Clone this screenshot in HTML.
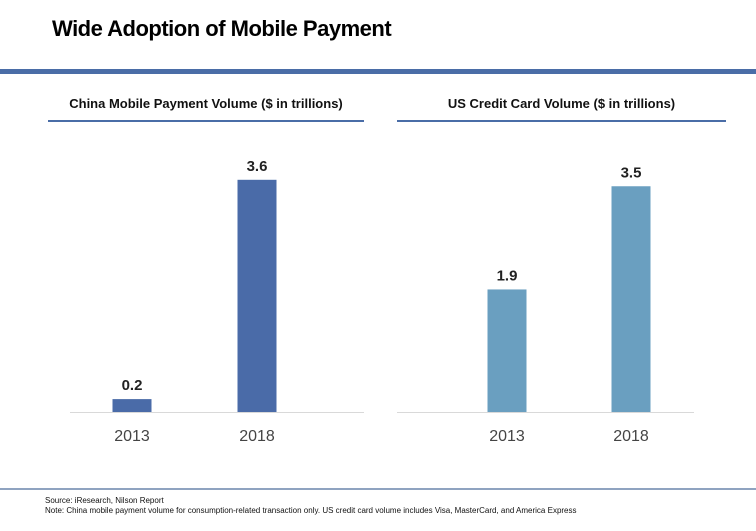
<!DOCTYPE html>
<html><head><meta charset="utf-8"><style>
body{margin:0;width:756px;height:531px;background:#fff;font-family:"Liberation Sans",sans-serif;position:relative;overflow:hidden}
.a{position:absolute}
</style></head><body>
<div class="a" style="left:52px;top:16px;font-size:22px;font-weight:bold;color:#000;letter-spacing:-0.5px">Wide Adoption of Mobile Payment</div>
<div class="a" style="left:0;top:69px;width:756px;height:5px;background:#4a6da7"></div>
<div class="a" style="left:48px;top:96px;width:316px;text-align:center;font-size:13px;font-weight:bold;color:#111">China Mobile Payment Volume ($ in trillions)</div>
<div class="a" style="left:48px;top:120px;width:316px;height:2px;background:#4a6da7"></div>
<div class="a" style="left:397px;top:96px;width:329px;text-align:center;font-size:13px;font-weight:bold;color:#111">US Credit Card Volume ($ in trillions)</div>
<div class="a" style="left:397px;top:120px;width:329px;height:2px;background:#4a6da7"></div>
<svg class="a" style="left:0;top:0" width="756" height="531" id="chart"></svg>
<div class="a" style="left:0;top:488px;width:756px;height:2px;background:#8fa3c0"></div>
<div class="a" style="left:45px;top:496px;font-size:8px;line-height:10px;color:#111">Source: iResearch, Nilson Report<br>Note: China mobile payment volume for consumption-related transaction only. US credit card volume includes Visa, MasterCard, and America Express</div>
<script>
const years=["2013","2018"];
const chinaValues=[0.2,3.6];
const usValues=[1.9,3.5];
const valueLabels=[["0.2","3.6"],["1.9","3.5"]];
const NS="http://www.w3.org/2000/svg";
const svg=document.getElementById('chart');
const baseY=412, scale=64.5;
function yOf(v){return baseY-v*scale;}
const panels=[{vals:chinaValues,x0:70,x1:364,centers:[132,257],color:"#4a6ba8",name:"china"},
{vals:usValues,x0:397,x1:694,centers:[507,631],color:"#6a9fc0",name:"us"}];
panels.forEach((p,pi)=>{
 const ax=document.createElementNS(NS,'line');
 ax.setAttribute('x1',p.x0);ax.setAttribute('x2',p.x1);ax.setAttribute('y1',baseY+0.5);ax.setAttribute('y2',baseY+0.5);
 ax.setAttribute('stroke','#d9d9d9');
 
 
 svg.appendChild(ax);
 p.vals.forEach((v,i)=>{
  const cx=p.centers[i];
  const r=document.createElementNS(NS,'rect');
  r.setAttribute('x',cx-19.5);r.setAttribute('width',39);r.setAttribute('y',yOf(v));r.setAttribute('height',baseY-yOf(v));r.setAttribute('fill',p.color);
  
  
  svg.appendChild(r);
  const t=document.createElementNS(NS,'text');
  t.setAttribute('x',cx);t.setAttribute('y',yOf(v)-9);t.setAttribute('text-anchor','middle');t.setAttribute('font-size','15');t.setAttribute('fill','#222');t.setAttribute('font-weight','bold');
  t.setAttribute('font-family','Liberation Sans, sans-serif');
  t.textContent=valueLabels[pi][i];
  
  
  svg.appendChild(t);
  const y=document.createElementNS(NS,'text');
  y.setAttribute('x',cx);y.setAttribute('y',441);y.setAttribute('text-anchor','middle');y.setAttribute('font-size','16');y.setAttribute('fill','#444');
  y.setAttribute('font-family','Liberation Sans, sans-serif');
  y.textContent=years[i];
  
  
  svg.appendChild(y);
 });
});
</script>
</body></html>
